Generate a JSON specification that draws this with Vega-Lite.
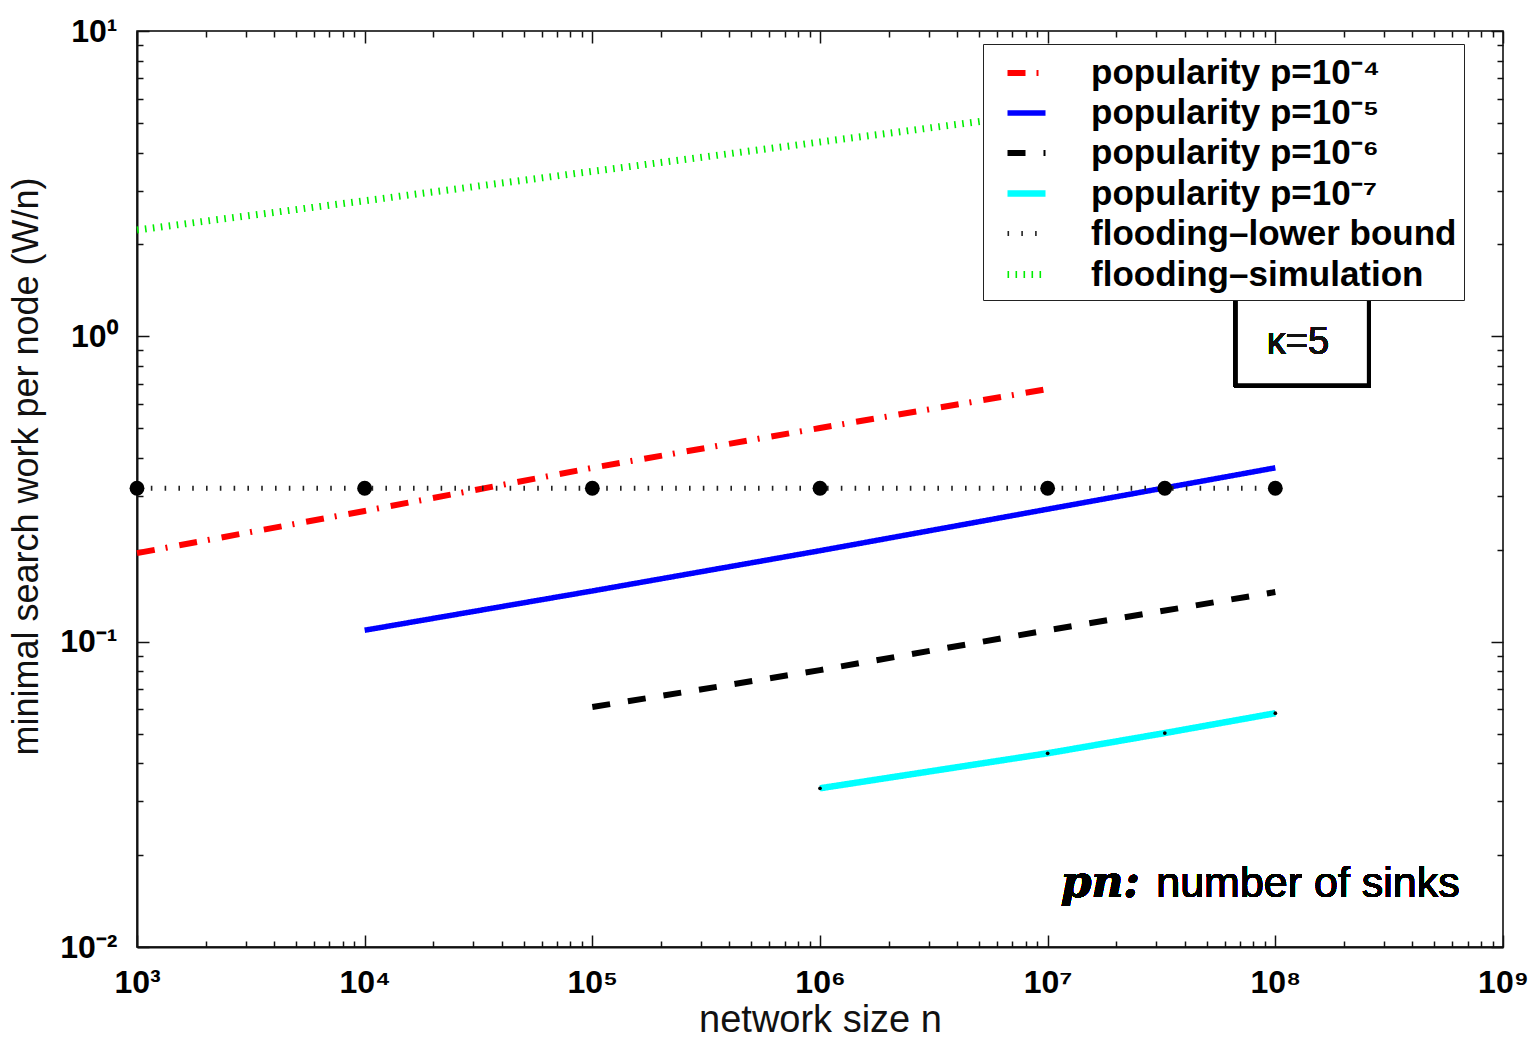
{
  "$schema": "https://vega.github.io/schema/vega-lite/v6.json",
  "width": 1366,
  "height": 916,
  "autosize": {"type": "none"},
  "padding": {"left": 137, "top": 31, "right": 34, "bottom": 92},
  "background": "white",
  "config": {
    "view": {"stroke": "black", "strokeWidth": 1.5},
    "font": "Liberation Sans",
    "axis": {
      "domainColor": "#111",
      "domainWidth": 2,
      "tickColor": "#111",
      "tickWidth": 1.5,
      "grid": false,
      "labelFont": "Liberation Sans",
      "labelFontWeight": "bold",
      "labelFontSize": 32,
      "labelColor": "black",
      "labelOverlap": false,
      "labelBound": false,
      "labelFlush": false,
      "titleFont": "Liberation Sans",
      "titleFontWeight": "normal",
      "titleColor": "#111"
    }
  },
  "data": {
    "values": [
      {"s": "popularity p=10⁻⁴", "n": 1000, "w": 0.195},
      {"s": "popularity p=10⁻⁴", "n": 10000, "w": 0.268},
      {"s": "popularity p=10⁻⁴", "n": 100000, "w": 0.371},
      {"s": "popularity p=10⁻⁴", "n": 1000000, "w": 0.501},
      {"s": "popularity p=10⁻⁴", "n": 10000000, "w": 0.672},
      {"s": "popularity p=10⁻⁵", "n": 10000, "w": 0.109},
      {"s": "popularity p=10⁻⁵", "n": 100000, "w": 0.1466},
      {"s": "popularity p=10⁻⁵", "n": 1000000, "w": 0.1986},
      {"s": "popularity p=10⁻⁵", "n": 10000000, "w": 0.2716},
      {"s": "popularity p=10⁻⁵", "n": 100000000, "w": 0.371},
      {"s": "popularity p=10⁻⁶", "n": 100000, "w": 0.0611},
      {"s": "popularity p=10⁻⁶", "n": 1000000, "w": 0.0807},
      {"s": "popularity p=10⁻⁶", "n": 10000000, "w": 0.109},
      {"s": "popularity p=10⁻⁶", "n": 100000000, "w": 0.1454},
      {"s": "popularity p=10⁻⁷", "n": 1000000, "w": 0.0331},
      {"s": "popularity p=10⁻⁷", "n": 10000000, "w": 0.0431},
      {"s": "popularity p=10⁻⁷", "n": 32700000, "w": 0.0502},
      {"s": "popularity p=10⁻⁷", "n": 100000000, "w": 0.0583},
      {"s": "flooding–lower bound", "n": 1000, "w": 0.318},
      {"s": "flooding–lower bound", "n": 10000, "w": 0.318},
      {"s": "flooding–lower bound", "n": 100000, "w": 0.318},
      {"s": "flooding–lower bound", "n": 1000000, "w": 0.318},
      {"s": "flooding–lower bound", "n": 10000000, "w": 0.318},
      {"s": "flooding–lower bound", "n": 32700000, "w": 0.318},
      {"s": "flooding–lower bound", "n": 100000000, "w": 0.318},
      {"s": "flooding–simulation", "n": 1000, "w": 2.23},
      {"s": "flooding–simulation", "n": 10000, "w": 2.78},
      {"s": "flooding–simulation", "n": 100000, "w": 3.47},
      {"s": "flooding–simulation", "n": 1000000, "w": 4.33},
      {"s": "flooding–simulation", "n": 4800000, "w": 5.03},
      {"s": "flooding–simulation", "n": 10000000, "w": 5.41},
      {"s": "flooding–simulation", "n": 100000000, "w": 6.74}
    ]
  },
  "layer": [
    {
      "mark": {"type": "line", "strokeCap": "butt"},
      "encoding": {
        "x": {
          "field": "n", "type": "quantitative",
          "scale": {"type": "log", "domain": [1000, 1000000000], "nice": false},
          "axis": {
            "orient": "bottom",
            "title": "network size n",
            "titleFontSize": 38,
            "titleBaseline": "alphabetic",
            "titleY": 84,
            "values": [1000,2000,3000,4000,5000,6000,7000,8000,9000,10000,20000,30000,40000,50000,60000,70000,80000,90000,100000,200000,300000,400000,500000,600000,700000,800000,900000,1000000,2000000,3000000,4000000,5000000,6000000,7000000,8000000,9000000,10000000,20000000,30000000,40000000,50000000,60000000,70000000,80000000,90000000,100000000,200000000,300000000,400000000,500000000,600000000,700000000,800000000,900000000,1000000000],
            "tickSize": {"condition": {"test": "abs(log(datum.value)/LN10 - round(log(datum.value)/LN10)) < 0.001", "value": -12}, "value": -6},
            "labelPadding": 32,
            "labelExpr": "abs(log(datum.value)/LN10 - round(log(datum.value)/LN10)) < 0.001 ? '10' + substring('⁰¹²³⁴⁵⁶⁷⁸⁹', round(log(datum.value)/LN10), round(log(datum.value)/LN10) + 1) : ''"
          }
        },
        "y": {
          "field": "w", "type": "quantitative",
          "scale": {"type": "log", "domain": [0.01, 10], "nice": false},
          "axis": {
            "orient": "left",
            "title": "minimal search work per node (W/n)",
            "titleFontSize": 36,
            "titleX": -100,
            "titleY": 435,
            "titleBaseline": "alphabetic",
            "values": [0.01,0.02,0.03,0.04,0.05,0.06,0.07,0.08,0.09,0.1,0.2,0.3,0.4,0.5,0.6,0.7,0.8,0.9,1,2,3,4,5,6,7,8,9,10],
            "tickSize": {"condition": {"test": "abs(log(datum.value)/LN10 - round(log(datum.value)/LN10)) < 0.001", "value": -12}, "value": -6},
            "labelPadding": 32,
            "labelExpr": "abs(log(datum.value)/LN10 - round(log(datum.value)/LN10)) < 0.001 ? '10' + (round(log(datum.value)/LN10) < 0 ? '⁻' : '') + substring('⁰¹²³⁴⁵⁶⁷⁸⁹', abs(round(log(datum.value)/LN10)), abs(round(log(datum.value)/LN10)) + 1) : ''"
          }
        },
        "color": {
          "field": "s", "type": "nominal",
          "scale": {
            "domain": ["popularity p=10⁻⁴", "popularity p=10⁻⁵", "popularity p=10⁻⁶", "popularity p=10⁻⁷", "flooding–lower bound", "flooding–simulation"],
            "range": ["#ff0000", "#0000ff", "#000000", "#00ffff", "#222222", "#00ee00"]
          },
          "legend": {
            "orient": "none",
            "legendX": 846,
            "legendY": 13,
            "zindex": 1,
            "title": null,
            "fillColor": "white",
            "strokeColor": "#222",
            "padding": 7,
            "symbolType": "stroke",
            "symbolSize": 1444,
            "symbolOffset": 14,
            "labelFont": "Liberation Sans",
            "labelFontSize": 35,
            "labelFontWeight": "bold",
            "labelColor": "black",
            "labelLimit": 1000,
            "labelOffset": 42,
            "rowPadding": -8
          }
        },
        "strokeDash": {
          "field": "s", "type": "nominal",
          "scale": {
            "domain": ["popularity p=10⁻⁴", "popularity p=10⁻⁵", "popularity p=10⁻⁶", "popularity p=10⁻⁷", "flooding–lower bound", "flooding–simulation"],
            "range": [[18, 11, 2, 12], [1, 0], [18, 18], [1, 0], [1.6, 12.2], [1.6, 6.4]]
          }
        },
        "strokeWidth": {
          "field": "s", "type": "nominal",
          "scale": {
            "type": "ordinal",
            "domain": ["popularity p=10⁻⁴", "popularity p=10⁻⁵", "popularity p=10⁻⁶", "popularity p=10⁻⁷", "flooding–lower bound", "flooding–simulation"],
            "range": [6, 5.5, 6, 6.5, 5, 7]
          }
        }
      }
    },
    {
      "transform": [{"filter": "datum.s == 'flooding–lower bound'"}],
      "mark": {"type": "point", "filled": true, "color": "black", "opacity": 1, "size": 220},
      "encoding": {
        "x": {
          "field": "n", "type": "quantitative",
          "axis": {
            "orient": "top", "title": null, "labels": false, "domain": false,
            "values": [1000,2000,3000,4000,5000,6000,7000,8000,9000,10000,20000,30000,40000,50000,60000,70000,80000,90000,100000,200000,300000,400000,500000,600000,700000,800000,900000,1000000,2000000,3000000,4000000,5000000,6000000,7000000,8000000,9000000,10000000,20000000,30000000,40000000,50000000,60000000,70000000,80000000,90000000,100000000,200000000,300000000,400000000,500000000,600000000,700000000,800000000,900000000,1000000000],
            "tickSize": {"condition": {"test": "abs(log(datum.value)/LN10 - round(log(datum.value)/LN10)) < 0.001", "value": -12}, "value": -6}
          }
        },
        "y": {
          "field": "w", "type": "quantitative",
          "axis": {
            "orient": "right", "title": null, "labels": false, "domain": false,
            "values": [0.01,0.02,0.03,0.04,0.05,0.06,0.07,0.08,0.09,0.1,0.2,0.3,0.4,0.5,0.6,0.7,0.8,0.9,1,2,3,4,5,6,7,8,9,10],
            "tickSize": {"condition": {"test": "abs(log(datum.value)/LN10 - round(log(datum.value)/LN10)) < 0.001", "value": -12}, "value": -6}
          }
        }
      }
    },
    {
      "transform": [{"filter": "datum.s == 'popularity p=10⁻⁷'"}],
      "mark": {"type": "point", "filled": true, "color": "black", "opacity": 1, "size": 14},
      "encoding": {
        "x": {"field": "n", "type": "quantitative", "axis": null},
        "y": {"field": "w", "type": "quantitative", "axis": null}
      }
    },
    {
      "mark": {"type": "rect", "fill": "white", "stroke": "black", "strokeWidth": 4, "zindex": 3},
      "encoding": {
        "x": {"datum": 67100000, "type": "quantitative", "axis": null},
        "x2": {"datum": 257500000},
        "y": {"datum": 1.35, "type": "quantitative", "axis": null},
        "y2": {"datum": 0.692}
      }
    },
    {
      "mark": {"type": "text", "text": "κ=5", "font": "Liberation Sans", "fontSize": 38, "align": "center", "baseline": "middle", "color": "#111", "zindex": 3},
      "encoding": {
        "x": {"datum": 125600000, "type": "quantitative", "axis": null},
        "y": {"datum": 0.951, "type": "quantitative", "axis": null}
      }
    },
    {
      "mark": {"type": "text", "text": "pn:", "font": "DejaVu Serif", "fontSize": 44, "fontWeight": "bold", "fontStyle": "italic", "align": "right", "baseline": "alphabetic", "color": "black"},
      "encoding": {
        "x": {"datum": 25400000, "type": "quantitative", "axis": null},
        "y": {"datum": 0.01457, "type": "quantitative", "axis": null}
      }
    },
    {
      "mark": {"type": "text", "text": "number of sinks", "font": "Liberation Sans", "fontSize": 43, "align": "right", "baseline": "alphabetic", "color": "black"},
      "encoding": {
        "x": {"datum": 646000000, "type": "quantitative", "axis": null},
        "y": {"datum": 0.01457, "type": "quantitative", "axis": null}
      }
    }
  ]
}
